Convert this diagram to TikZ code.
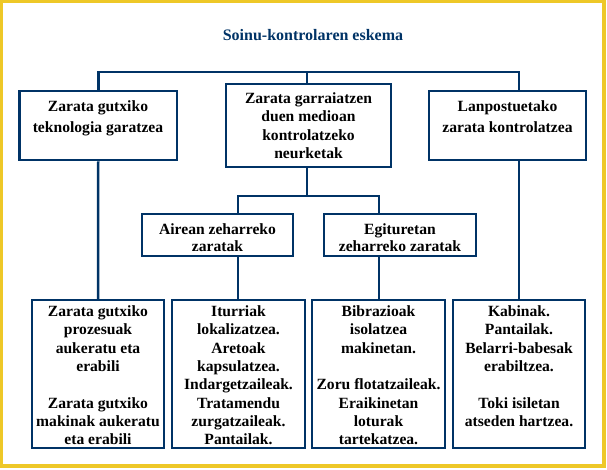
\documentclass[tikz,border=0pt]{standalone}
\usepackage{fontspec}
\setmainfont{Liberation Serif}
\definecolor{navy}{RGB}{0,51,102}
\definecolor{frameyellow}{RGB}{238,200,40}
\tikzset{
  box/.style={draw=navy, line width=2.5pt, fill=white, inner sep=0pt, rectangle},
  conn/.style={draw=navy, line width=2.5pt},
  txt/.style={align=center, inner sep=0pt, anchor=north, font=\bfseries\fontsize{15.6}{18.3}\selectfont, text=black},
  ttl/.style={inner sep=0pt, font=\bfseries\fontsize{16}{18}\selectfont, text=navy}
}
\begin{document}
\begin{tikzpicture}[x=1pt,y=-1pt]
\useasboundingbox (0,0) rectangle (607,469);
\fill[white] (0,0) rectangle (607,469);
\draw[frameyellow, line width=3.2pt] (1.6,1.6) rectangle (604,466);

\node[ttl] (title) at (313,35) {Soinu-kontrolaren eskema};

% boxes
\node[box, minimum width=157.5, minimum height=69] (b1) at (98.25,125.5) {};
\node[box, minimum width=165, minimum height=83] (b2) at (308.5,125.5) {};
\node[box, minimum width=157, minimum height=69] (b3) at (507.5,125.5) {};
\node[box, minimum width=151, minimum height=42] (b4) at (217.5,235) {};
\node[box, minimum width=152, minimum height=42] (b5) at (400,235) {};
\node[box, minimum width=132, minimum height=148] (bA) at (98,374) {};
\node[box, minimum width=133, minimum height=148] (bB) at (238.5,374) {};
\node[box, minimum width=133, minimum height=148] (bC) at (378.5,374) {};
\node[box, minimum width=132, minimum height=148] (bD) at (519,374) {};

% connector coordinates
\coordinate (barR) at (519,72);
\coordinate (x2) at (307,72);
\coordinate (m) at (307,196);
\coordinate (mL) at (238,196);
\coordinate (mR) at (379,196);

% connectors
\draw[conn] (b1.north) |- (barR) -- (barR |- b3.north);
\draw[conn] (x2) -- (x2 |- b2.north);
\draw[conn] (x2 |- b2.south) -- (m);
\draw[conn] (mL |- b4.north) -- (mL) -- (mR) -- (mR |- b5.north);
\draw[conn] (b1.south) -- (bA.north);
\draw[conn] (mL |- b4.south) -- (mL |- bB.north);
\draw[conn] (mR |- b5.south) -- (mR |- bC.north);
\draw[conn] (bD.north |- b3.south) -- (bD.north);

% texts
\node[txt, font=\bfseries\fontsize{15.6}{21}\selectfont] (t1) at (98,100) {Zarata gutxiko\\teknologia garatzea};
\node[txt] (t2) at (308.5,92.5) {Zarata garraiatzen\\duen medioan\\kontrolatzeko\\neurketak};
\node[txt, font=\bfseries\fontsize{15.6}{21}\selectfont] (t3) at (507.5,100) {Lanpostuetako\\zarata kontrolatzea};
\node[txt, font=\bfseries\fontsize{15.6}{17.5}\selectfont] (t4) at (217.5,223) {Airean zeharreko\\zaratak};
\node[txt, font=\bfseries\fontsize{15.6}{17.5}\selectfont] (t5) at (400,223) {Egituretan\\zeharreko zaratak};
\node[txt] (tA) at (98,305.5) {Zarata gutxiko\\prozesuak\\aukeratu eta\\erabili\\[18.3pt]Zarata gutxiko\\makinak aukeratu\\eta erabili};
\node[txt] (tB) at (238.5,305.5) {Iturriak\\lokalizatzea.\\Aretoak\\kapsulatzea.\\Indargetzaileak.\\Tratamendu\\zurgatzaileak.\\Pantailak.};
\node[txt] (tC) at (378.5,305.5) {Bibrazioak\\isolatzea\\makinetan.\\[18.3pt]Zoru flotatzaileak.\\Eraikinetan\\loturak\\tartekatzea.};
\node[txt] (tD) at (519,305.5) {Kabinak.\\Pantailak.\\Belarri-babesak\\erabiltzea.\\[18.3pt]Toki isiletan\\atseden hartzea.};
\end{tikzpicture}
\end{document}
